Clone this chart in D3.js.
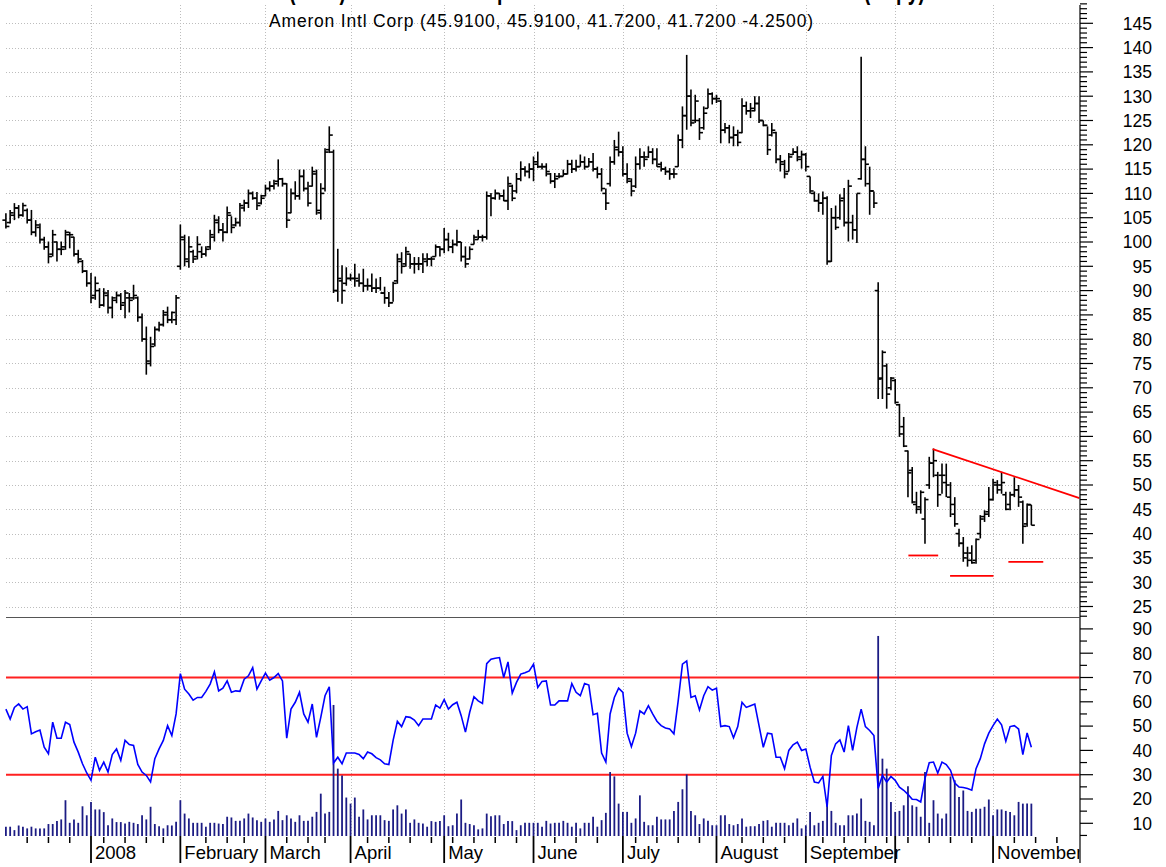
<!DOCTYPE html>
<html lang="en">
<head>
<meta charset="UTF-8">
<title>Ameron Intl Corp</title>
<script src="https://cdn.jsdelivr.net/npm/d3@7"></script>
<style>
    body { margin: 0; background: #fff; }
    svg { display: block; font-family: "Liberation Sans", Arial, sans-serif; }
</style>
</head>
<body>
<script>
// daily bars from Dec 3 2007, one value per trading day
var opens = [
    104.5,104,105.5,107,105.5,106.5,104.5,102,103,100.5,
    99,97.5,100,98.5,99,101.5,101,97.5,96,94,
    91.5,89,90,87,89,86.5,88,89,87.5,88.5,
    88.5,88.5,84.5,80,75,79,82,83,85.5,84,
    84,95,100.5,96,98,97,98,97.5,99,101,
    104,102.5,102,105.5,103.5,104,107,108,110,109,
    108,109.5,111,111.5,112.5,113,112,106,110,109.5,
    113.5,111,111.5,114,106,111,119,118.5,90,92,
    91.5,92.5,92.5,92,91.5,91,91,90.5,90.5,89.5,
    88.5,87.5,92,96,95.5,97.5,95.5,95.5,95.5,96,
    96.5,97,99,98.5,100.5,99,99.5,100,97,96.5,
    99.5,100.5,101,101,109.5,109,110,109.5,108.5,111.5,
    110.5,113,115,114.5,115,116,115.5,115.5,114,112.5,
    113.5,113.5,114,116,115,115.5,116.5,115.5,116.5,115,
    114,110,112,116.5,119,118.5,114,112.5,111.5,116,
    117.5,117.5,118.5,117,116,115,114.5,114,115.5,121,
    126,130,125,125,123.5,127.5,130.5,129.5,129,123,
    123.5,121.5,122,122.5,128,127,127,128.5,125,124,
    122,122.5,117,116,114.5,118,118.5,117,118,113.5,
    110,108.5,108,109,96,105,105,109,104,104,
    102.5,113,117,112,110.5,90,72,74.5,70,71.5,
    66.5,62,57,53,46,45.5,43,50,54.5,52,
    52,50.5,47.5,44,40,38,36,36,34.5,40,
    43.5,44.5,47,50,50,48,46,48,49,46.5,
    42,45.91
];
var highs = [
    105.9,106.6,108,107.6,108.1,106.9,106.6,104.5,103.8,101.1,
    100.1,102.5,100.1,100.1,102.5,102.1,101.1,98.4,96.3,94.2,
    93.6,92.9,90.5,90.5,90.1,88.8,89.8,89.5,90.1,89.5,
    91.2,88.8,85.3,82.6,80.5,82.6,83.6,86,86.7,85.7,
    89.1,103.6,101.5,101.2,98.4,101.2,99.1,99.1,102.5,105.6,
    105.3,103.9,107.3,105.3,105,108,108.7,110.8,110.4,110.3,
    109.7,111.8,112.5,112.8,117,113.2,112.1,111,112.5,114.9,
    114.9,112.4,115.5,114.9,112.1,119.3,123.8,119,98.6,95.2,
    94.8,93.5,95.5,93.5,94.5,92.5,93.5,92.5,92.8,90.8,
    89.7,91.8,97.6,97.9,99,97.6,96.9,96.9,97.7,97.7,
    97,99.5,99.1,102.9,101.9,100.5,102.5,100,99.1,99.1,
    101.5,102.5,101.5,110.4,110.1,110.8,110.1,110.8,113.5,111.8,
    114.2,116.6,115.6,116.2,117.6,118.6,116.2,116.2,114.2,114.2,
    114.2,114.9,116.9,116.9,116.9,118,117.6,117.3,118.3,115.5,
    115.2,111,117.6,121,122.7,119.7,116.2,113.1,117.6,119.3,
    118.6,119.7,119.3,119.3,116.5,115.5,115.2,115.2,122.1,127.9,
    138.5,131.4,130.3,125.5,127.9,131.6,130.8,130.3,129.2,124.5,
    124.1,123.8,123.1,129.6,128.9,128.6,130,130,125,123.8,
    124.5,122.7,117.9,116.9,118.3,119.3,119.7,118.8,118.3,113.5,
    110.4,110,110.4,109.4,107,107.5,109.8,111.1,112.8,105.6,
    110,138.1,119.7,115.5,110.4,91.7,77.7,75,72.2,71.8,
    66.7,64,57.1,53.7,48.6,48.9,47.5,55.8,57.5,52.7,
    54.4,54.4,50.6,47.5,41,39.3,37.3,37.6,39,43.8,
    44.8,49.6,51.3,51,52.7,48.6,48.6,51.6,50,46.8,
    46.2,45.91
];
var lows = [
    102.8,103.8,104.5,104.9,105.2,103.8,101.4,101.1,99.7,98.4,
    95.6,97,96,97.3,98.4,98.7,97,95.6,93.6,90.8,
    87.4,88.1,86.4,86.7,85.3,84.3,87.4,86,84.3,85.5,
    88.1,83.6,79.5,72.7,74.4,78.5,81.6,82.6,83.3,83.3,
    82.9,94.3,95,94.7,95.7,96.4,96.7,97,98.4,100.1,
    101.8,100.1,101.8,101.8,103.2,103.2,106.3,107,108.7,106.6,
    107.7,109.4,110.4,110.8,111.4,111.4,102.9,105.9,108.7,108.7,
    110.4,107.3,111.4,105.6,104.6,110.4,118.3,89.5,87.7,87.3,
    91,92,90.8,90.8,89.7,90,89.7,89.5,90,87.3,
    86.6,87.7,91.4,93.5,94.9,94.5,93.5,94.2,93.6,95,
    95,97,97,97.7,98.1,97.7,99.1,96,94.7,96.4,
    99.5,100.5,100.1,100.5,105.3,108.7,108.7,108.4,106.6,108.4,
    110,112.5,113.5,113.1,112.5,115.2,114.9,113.5,112,111.1,
    113.1,113.5,113.9,114.2,114.5,115.5,114.9,115.5,114.5,113.1,
    110.4,106.6,111.4,115.9,117.6,113.5,112.1,109.4,111.1,114.9,
    115.5,117.3,116,115.5,114.5,113.8,112.8,113.1,115.5,119.3,
    123.1,123.8,124.5,121,123.1,127.5,128.3,128.6,120.3,122.4,
    120.3,119.7,119.7,122.4,126.2,125.5,126.9,124.5,123.8,117.9,
    121.7,116.2,114.5,113.1,114.5,117.9,116.6,115.1,114.5,110,
    108.3,106.2,105.6,95.3,95.9,102.5,104.6,103.2,100.1,100.5,
    99.8,112.8,111.4,105.6,107,67.7,67.7,65.7,69.5,66.7,
    59.9,57.8,47.5,46.2,44.1,44.1,37.9,49.2,51.6,45.5,
    48.2,47.5,43.4,41.4,37.3,34.2,33.2,33.8,33.8,39,
    42.4,43.4,46.8,48.2,48.2,44.8,44.8,47.5,45.5,37.9,
    41.4,41.72
];
var closes = [
    103.2,106,107,105.5,107.5,104.5,102,103.5,100.5,99,
    97,101.5,98.5,98.5,102,101.5,97.5,96.5,94,91.5,
    88.5,91.5,87,89.5,86.5,88.5,89,87,89.5,88,
    89,84.5,80,75.5,78.5,82,83,85,84,85.5,
    88.5,101,96.5,99,96.5,99.5,97.5,98.5,101.5,104.5,
    102.5,102,106,103,104,107.5,108,110,109,107.5,
    109,111,111.5,112,113,112,104.5,110,109.5,113.5,
    111,108,114.5,106.5,110,118.5,122,90,92.5,90,
    92.5,92.5,92.5,91.5,91,91,90.5,90.5,89.5,88.5,
    87.5,91.5,96.5,95,98,95.5,95.5,95.5,96.5,96.5,
    96.5,99,98.5,100.5,99,99.5,100,97,95.5,98.5,
    101,101,101,109.5,109,110,109.5,108.5,112,109,
    113,115,114.5,115,116.5,115.5,115.5,114.5,112.5,113,
    113.5,114,116,115,115.5,116.5,115.5,116.5,115,114,
    111,108,116.5,119.5,118.5,114,113,110.5,116,117.5,
    117,118.5,117,115.5,115,114.5,114,114,121,126,
    130,124.5,129,122.5,126.5,130.5,129.5,129.5,123,123.5,
    121.5,122,120.5,128,127,127.5,128.5,125,124,119,
    123,117,116.5,114,117.5,118.5,117.5,118,115.5,110.5,
    108.5,108,109,96,105,103,108.5,104,111.5,102.5,
    110,117,116,110.5,108,71.8,77.3,68.7,72,67,
    60.5,58,52.5,46.5,45,48.5,47,54.5,55,48,
    52,50,46,42,38,35,34.5,34,38.8,43,
    44,47,50.5,49,50.5,45,48,49,47.5,41.5,
    46,41.72
];
// indicator line (lower panel)
var rsi = [
    57,52.9,57.7,59.1,57,58,46.8,47.7,48.4,41.3,
    38.6,51.6,45,45,51.6,50.6,43.4,39.3,34.5,30.7,
    27.7,37.2,31.8,35.2,31.1,38.3,40.6,35.9,44.1,42.4,
    42,34.2,31.1,29.7,27,36.6,40.6,44.1,50.2,46.1,
    55,71.6,65.2,63.2,60.7,61.8,61.8,64.3,67.3,72.3,
    64.5,65.6,68.6,63.9,64.5,64.3,69.3,70.7,74.1,65.2,
    68.6,71.8,68.9,70,71.6,68.6,45,57,59.8,63.9,
    55,51.6,59.1,45.4,53.6,62.5,66.2,34.8,37.2,34.5,
    38.9,38.9,38.9,38.3,36.6,39.3,38.6,37,36.1,34.5,
    34.2,44.1,52,49.8,53.9,53.6,52.5,50.2,52.9,52.9,
    52.9,58.7,57.4,60.9,57,58.8,59.8,54.3,47.5,55.7,
    62.1,60.4,59.3,75.7,77.5,77.9,78.2,70,76.4,63.6,
    68,71.4,72,72.7,75.5,65.9,68.4,68.6,58.7,58.7,
    60.4,60.4,60.4,67.5,63.9,62.5,67.5,66.9,54.7,55.3,
    38.9,35.2,55,61.8,65.6,63.9,47.1,41.6,47.1,56.3,
    55,58.4,55,52,50.2,49.2,48.8,46.8,60.4,75.5,
    76.8,61.8,62.5,56.6,62.5,66.2,64.8,65.6,49.8,50.2,
    49.8,45.2,49.8,59.8,57.7,58.4,59.1,50.2,41.3,47.1,
    46.8,37.2,37.2,32.5,40,42.3,43.4,40,40.6,33.1,
    27,26.6,29.3,16.8,37.9,42.7,44.3,39.3,50.2,40,
    49.5,57,49.8,48.2,46.1,24.3,29.7,27,29.3,27.7,
    24.9,23.6,21.9,19.9,19.8,18.8,28.4,34.9,35.2,30.7,
    35.2,34.2,31.8,26.6,24.9,24.7,24.3,23.6,32.5,36.6,
    42.7,47.1,50.2,52.9,50.5,43.8,49.8,50.2,48.8,38.3,
    47.2,41.3
];
// volume, drawn in the lower panel units
var volumes = [
    8.6,8.6,7.2,9.1,8.6,7.9,8.6,7.9,7.9,7.9,
    9.7,9.7,10.9,11.6,19.5,10.2,11.6,10.2,17,13.3,
    18.8,15.7,15.7,14.6,9.2,12,10.5,10.5,9.9,10.6,
    10.2,9.7,13.3,11.6,16.8,9.7,8.8,7.9,9.2,9.1,
    10.6,19.5,14,12,10.2,10.2,10.2,8.6,10.2,10.2,
    9.9,9.7,12.7,12.4,11,11,12,14,12.4,11.3,
    10.6,12,10.6,11.6,15.1,11.3,13.3,12,10.6,13.3,
    11,11,12.7,14.7,22.2,14,14.7,58.7,32.5,29.7,
    20.6,18.1,20.6,12.7,15.7,11.6,13.3,13.3,13.3,11.3,
    11,15.7,17.4,14,15.7,10.2,11.6,10.2,9.9,8.6,
    10.9,10.6,10.9,13.3,8.8,9.2,14,19.8,10.2,9.7,
    9.2,7.5,7.9,14,12.9,13.3,13.3,9.7,10.9,10.9,
    7.2,9.2,10.2,10.2,10.2,10.2,8.6,11,9.9,10.2,
    10.2,11,10.2,8.6,10.2,7.9,10.2,10.2,12.7,8.6,
    11.3,14.3,31.1,29.3,18.1,14.7,14.7,10.2,12,21.5,
    10.6,9.2,9.2,12.7,11.6,11.6,11.6,15.1,18.8,24,
    30.1,15.1,13.3,9.7,12,11,9.2,9.2,13.3,13.3,
    9.7,9.2,9.7,12,8.6,8.8,8.8,9.7,11,11.3,
    8.6,10.2,10.2,10.2,9.2,10.2,12,7.9,9.2,14.7,
    9.2,10.2,11,19.5,15.1,10.2,9.2,9.2,13.3,13.3,
    14,20.2,11,10.6,9.2,87.1,36.6,32.5,18.8,14.7,
    15.1,17.4,25.2,17.4,16.8,12.7,31.1,10.2,19.5,14,
    12,14,29.3,27.7,20.8,23.5,15.1,14.7,16,16,
    16.8,19.8,13.3,15.7,15.7,15.1,14.7,13.3,18.8,18.1,
    18.1,18.1
];

var holidays = ["2007-12-25", "2008-01-01", "2008-01-21", "2008-02-18", "2008-03-21",
    "2008-05-26", "2008-07-04", "2008-09-01", "2008-11-27"];
// one label per month start (Dec 2007 .. Dec 2008); October has no label in the chart
var monthLabels = ["", "2008", "February", "March", "April", "May", "June", "July",
    "August", "September", "", "November", ""];
var priceLabels = [25, 30, 35, 40, 45, 50, 55, 60, 65, 70, 75, 80, 85, 90, 95, 100,
    105, 110, 115, 120, 125, 130, 135, 140, 145];
var lowerLabels = [10, 20, 30, 40, 50, 60, 70, 80, 90];
var bands = [30, 70];

// drawn annotations (bar index, price)
var trendLine = [[217.8, 57.4], [252.3, 47.3]];
var supports = [
    { from: 212.1, to: 219.1, price: 35.5 },
    { from: 221.9, to: 232.1, price: 31.3 },
    { from: 235.6, to: 243.8, price: 34.2 }
];

var title = "(AMN) Ameron Intl Corp - Inverse Head and Shoulders Pattern (Copy)";
var subtitle = "Ameron Intl Corp (45.9100, 45.9100, 41.7200, 41.7200 -4.2500)";

// trading calendar
var fmt = d3.timeFormat("%Y-%m-%d");
var days = [];
for (var d = new Date(2007, 11, 3); days.length < 253; d.setDate(d.getDate() + 1)) {
    var dow = d.getDay();
    if (dow === 0 || dow === 6 || holidays.indexOf(fmt(d)) >= 0) continue;
    days.push(new Date(d));
}
var monthStarts = [], weekStarts = [];
for (var i = 0; i < days.length; i++) {
    if (i === 0 || days[i].getMonth() !== days[i - 1].getMonth()) monthStarts.push(i);
    if (i > 0 && days[i].getDay() < days[i - 1].getDay()) weekStarts.push(i);
}

var W = 1166, H = 867;
var left = 6, right = 1079.5;
var svg = d3.select("body").append("svg").attr("width", W).attr("height", H);

var x = d3.scaleLinear().domain([0, 251]).range([5.9, 5.9 + 251 * 4.255]);
var yPrice = d3.scaleLinear().domain([25, 145]).range([606.5, 23.3]);
var yLow = d3.scaleLinear().domain([10, 90]).range([823.3, 628.9]);
var panelSplit = 617, axisY = 836;

svg.append("defs").append("clipPath").attr("id", "plot")
    .append("rect").attr("x", 0).attr("y", 0).attr("width", right).attr("height", H);

// grid
var grid = svg.append("g").attr("stroke", "#bdbdbd").attr("stroke-dasharray", "1,2").attr("stroke-width", 1);
grid.selectAll("line.h").data(priceLabels).enter().append("line")
    .attr("x1", left).attr("x2", right)
    .attr("y1", function (d) { return Math.round(yPrice(d)) + 0.5; })
    .attr("y2", function (d) { return Math.round(yPrice(d)) + 0.5; });
var gridMonths = monthStarts.filter(function (m, k) { return k > 0 && k < 12; });
grid.selectAll("line.v").data(gridMonths).enter().append("line")
    .attr("x1", function (d) { return Math.round(x(d)) + 0.5; })
    .attr("x2", function (d) { return Math.round(x(d)) + 0.5; })
    .attr("y1", 5).attr("y2", axisY);

// panel separator
svg.append("line").attr("x1", left).attr("x2", right).attr("y1", panelSplit + 0.5).attr("y2", panelSplit + 0.5)
    .attr("stroke", "#555").attr("stroke-width", 1);

// title (cut off by the top edge, as in the original) and subtitle
svg.append("text").attr("x", 289).attr("y", -1.5).attr("textLength", 636).attr("lengthAdjust", "spacingAndGlyphs")
    .attr("font-size", 28).attr("font-weight", "bold").text(title);
svg.append("text").attr("x", 541).attr("y", 27).attr("text-anchor", "middle")
    .attr("textLength", 544).attr("font-size", 17.5).text(subtitle);

// OHLC bars
var bars = svg.append("g").attr("stroke", "#000").attr("stroke-width", 1.6);
var idx = d3.range(closes.length);
bars.selectAll("line.hl").data(idx).enter().append("line")
    .attr("x1", function (i) { return x(i); }).attr("x2", function (i) { return x(i); })
    .attr("y1", function (i) { return yPrice(highs[i]); })
    .attr("y2", function (i) { return yPrice(lows[i]); });
bars.selectAll("line.o").data(idx).enter().append("line")
    .attr("x1", function (i) { return x(i) - 3.5; }).attr("x2", function (i) { return x(i); })
    .attr("y1", function (i) { return yPrice(opens[i]); })
    .attr("y2", function (i) { return yPrice(opens[i]); });
bars.selectAll("line.c").data(idx).enter().append("line")
    .attr("x1", function (i) { return x(i); }).attr("x2", function (i) { return x(i) + 3.5; })
    .attr("y1", function (i) { return yPrice(closes[i]); })
    .attr("y2", function (i) { return yPrice(closes[i]); });

// red annotations
var ann = svg.append("g").attr("stroke", "#ff0000").attr("stroke-width", 1.8).attr("clip-path", "url(#plot)");
ann.append("line")
    .attr("x1", x(trendLine[0][0])).attr("y1", yPrice(trendLine[0][1]))
    .attr("x2", x(trendLine[1][0])).attr("y2", yPrice(trendLine[1][1]));
ann.selectAll("line.s").data(supports).enter().append("line")
    .attr("x1", function (d) { return x(d.from); }).attr("x2", function (d) { return x(d.to); })
    .attr("y1", function (d) { return yPrice(d.price); }).attr("y2", function (d) { return yPrice(d.price); });

// lower panel: bands, volume, indicator
svg.append("g").selectAll("line").data(bands).enter().append("line")
    .attr("x1", left).attr("x2", right)
    .attr("y1", function (d) { return yLow(d); }).attr("y2", function (d) { return yLow(d); })
    .attr("stroke", "#ff2020").attr("stroke-width", 2);

svg.append("g").attr("stroke", "#1c1c84").attr("stroke-width", 1.8)
    .selectAll("line").data(idx).enter().append("line")
    .attr("x1", function (i) { return x(i); }).attr("x2", function (i) { return x(i); })
    .attr("y1", axisY).attr("y2", function (i) { return yLow(volumes[i]); });

svg.append("path").datum(idx)
    .attr("fill", "none").attr("stroke", "#0000ff").attr("stroke-width", 1.6)
    .attr("d", d3.line().x(function (i) { return x(i); }).y(function (i) { return yLow(rsi[i]); }));

// right axis
var ax = svg.append("g").attr("stroke", "#000").attr("stroke-width", 1.2);
ax.append("line").attr("x1", 1080).attr("x2", 1080).attr("y1", 5).attr("y2", axisY + 27);
ax.selectAll("line.pt").data(d3.range(23, 150)).enter().append("line")
    .attr("x1", 1080).attr("x2", function (d) { return d % 5 === 0 ? 1093 : 1087; })
    .attr("y1", function (d) { return yPrice(d); }).attr("y2", function (d) { return yPrice(d); });
ax.selectAll("line.lt").data(d3.range(5, 95, 5)).enter().append("line")
    .attr("x1", 1080).attr("x2", function (d) { return d % 10 === 0 ? 1093 : 1087; })
    .attr("y1", function (d) { return yLow(d); }).attr("y2", function (d) { return yLow(d); });

var labels = svg.append("g").attr("font-size", 17.5).attr("text-anchor", "end").attr("fill", "#000");
labels.selectAll("text.p").data(priceLabels).enter().append("text")
    .attr("x", 1152).attr("y", function (d) { return yPrice(d); }).attr("dy", "0.36em")
    .text(function (d) { return d; });
labels.selectAll("text.l").data(lowerLabels).enter().append("text")
    .attr("x", 1152).attr("y", function (d) { return yLow(d); }).attr("dy", "0.36em")
    .text(function (d) { return d; });

// bottom time axis (ticks only, no base line)
var bx = svg.append("g").attr("stroke", "#000");
var shortTicks = weekStarts.filter(function (w) {
    return w < 251 && !monthStarts.some(function (m, k) { return k > 0 && Math.abs(m - w) <= 1; });
});
bx.selectAll("line.w").data(shortTicks).enter().append("line")
    .attr("x1", function (d) { return x(d); }).attr("x2", function (d) { return x(d); })
    .attr("y1", axisY + 1).attr("y2", axisY + 7).attr("stroke-width", 1.5);
bx.selectAll("line.m").data(gridMonths).enter().append("line")
    .attr("x1", function (d) { return x(d); }).attr("x2", function (d) { return x(d); })
    .attr("y1", axisY).attr("y2", axisY + 27).attr("stroke-width", 1.8);

svg.append("g").attr("clip-path", "url(#plot)").attr("font-size", 18.5)
    .selectAll("text").data(monthStarts).enter().append("text")
    .attr("x", function (d) { return x(d) + 4; }).attr("y", 859)
    .text(function (d, k) { return monthLabels[k]; });
</script>
</body>
</html>
